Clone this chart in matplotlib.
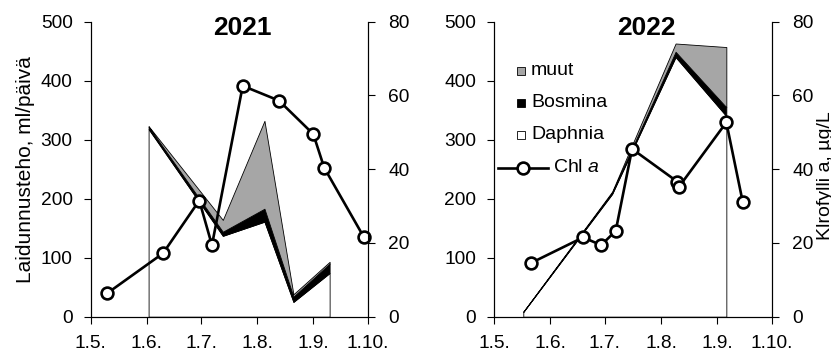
import matplotlib
matplotlib.use("Agg")
import matplotlib.pyplot as plt
from matplotlib.patches import Rectangle
from matplotlib.lines import Line2D

plt.rcParams['font.family'] = ['Liberation Sans', 'DejaVu Sans']
plt.rcParams['mathtext.fontset'] = 'custom'
plt.rcParams['mathtext.rm'] = 'Liberation Sans'
plt.rcParams['mathtext.it'] = 'Liberation Sans:italic'

# x = day of year
tick_days = [121, 152, 182, 213, 244, 274]
tick_labels = ['1.5.', '1.6.', '1.7.', '1.8.', '1.9.', '1.10.']

# 2021
days_21 = [153, 194, 217, 233, 253]
daphnia_21 = [318, 137, 161, 25, 74]
bosmina_21 = [4, 7, 22, 9, 16]
muut_21 = [1, 20, 149, 4, 3]
chl_days_21 = [130, 161, 181, 188, 205, 225, 244, 250, 272]
chl_21 = [6.3, 17.2, 31.5, 19.4, 62.6, 58.6, 49.5, 40.4, 21.5]

# 2022
days_22 = [137, 186, 221, 249]
daphnia_22 = [8, 208, 440, 340]
bosmina_22 = [0.3, 2, 9, 15]
muut_22 = [0.3, 2, 14, 102]
chl_days_22 = [141, 170, 180, 188, 197, 222, 223, 249, 258]
chl_22 = [14.5, 21.5, 19.4, 23.3, 45.5, 36.6, 35.3, 52.7, 31.2]

gray = '#a6a6a6'

fig = plt.figure(figsize=(8.31, 3.49), dpi=100)
ax1 = fig.add_axes([0.1091, 0.0926, 0.3333, 0.8453])
ax2 = fig.add_axes([0.5948, 0.0926, 0.3338, 0.8453])


def panel(ax, days, daph, bos, muut, cdays, chl, title):
    ax.stackplot(days, daph, bos, muut, colors=['white', 'black', gray],
                 edgecolor='black', linewidth=0.6)
    ax.set_xlim(121, 274)
    ax.set_ylim(0, 500)
    ax.set_yticks([0, 100, 200, 300, 400, 500])
    ax.set_xticks(tick_days)
    ax.set_xticklabels(tick_labels)
    ax.spines['top'].set_visible(False)
    for s in ax.spines.values():
        s.set_linewidth(0.8)
    ax.tick_params(axis='both', direction='out', length=5, width=0.8,
                   labelsize=13.8, pad=8)
    tw = ax.twinx()
    tw.plot(cdays, chl, '-o', color='black', lw=1.9, ms=8.5, mfc='white',
            mec='black', mew=1.9, clip_on=False)
    tw.set_ylim(0, 80)
    tw.set_yticks([0, 20, 40, 60, 80])
    tw.spines['top'].set_visible(False)
    for s in tw.spines.values():
        s.set_linewidth(0.8)
    tw.tick_params(axis='y', direction='out', length=5, width=0.8,
                   labelsize=13.8, pad=10)
    tw.text(0.548, 0.979, title, transform=tw.transAxes, ha='center',
            va='center', fontsize=19, fontweight='bold')
    return tw


tw1 = panel(ax1, days_21, daphnia_21, bosmina_21, muut_21,
            chl_days_21, chl_21, '2021')
tw2 = panel(ax2, days_22, daphnia_22, bosmina_22, muut_22,
            chl_days_22, chl_22, '2022')

ax1.set_ylabel('Laidunnusteho, ml/päivä', fontsize=15)
ax1.yaxis.set_label_coords(-0.20, 0.5)
fig.text(826 / 831, 1 - 176 / 349, 'Klrofylli a, µg/L', rotation=90,
         ha='center', va='center', fontsize=14)

# legend drawn by hand in the 2022 panel
sq_w, sq_h = 8 / 277.4, 8 / 295
rows = [0.833, 0.726, 0.616]
names = ['muut', 'Bosmina', 'Daphnia']
fills = [gray, 'black', 'white']
for y, name, fc in zip(rows, names, fills):
    tw2.add_patch(Rectangle((0.097 - sq_w / 2, y - sq_h / 2), sq_w, sq_h,
                            transform=tw2.transAxes, facecolor=fc,
                            edgecolor='black', linewidth=0.6, clip_on=False))
    tw2.text(0.132, y, name, transform=tw2.transAxes, ha='left',
             va='center', fontsize=14)
tw2.add_line(Line2D([0.013, 0.194], [0.504, 0.504], transform=tw2.transAxes,
                    color='black', lw=1.9))
tw2.add_line(Line2D([0.102], [0.504], transform=tw2.transAxes, marker='o',
                    ms=8.5, mfc='white', mec='black', mew=1.9))
tw2.text(0.212, 0.504, r'Chl $\it{a}$', transform=tw2.transAxes, ha='left',
         va='center', fontsize=14)

fig.savefig('out.png', dpi=100)
